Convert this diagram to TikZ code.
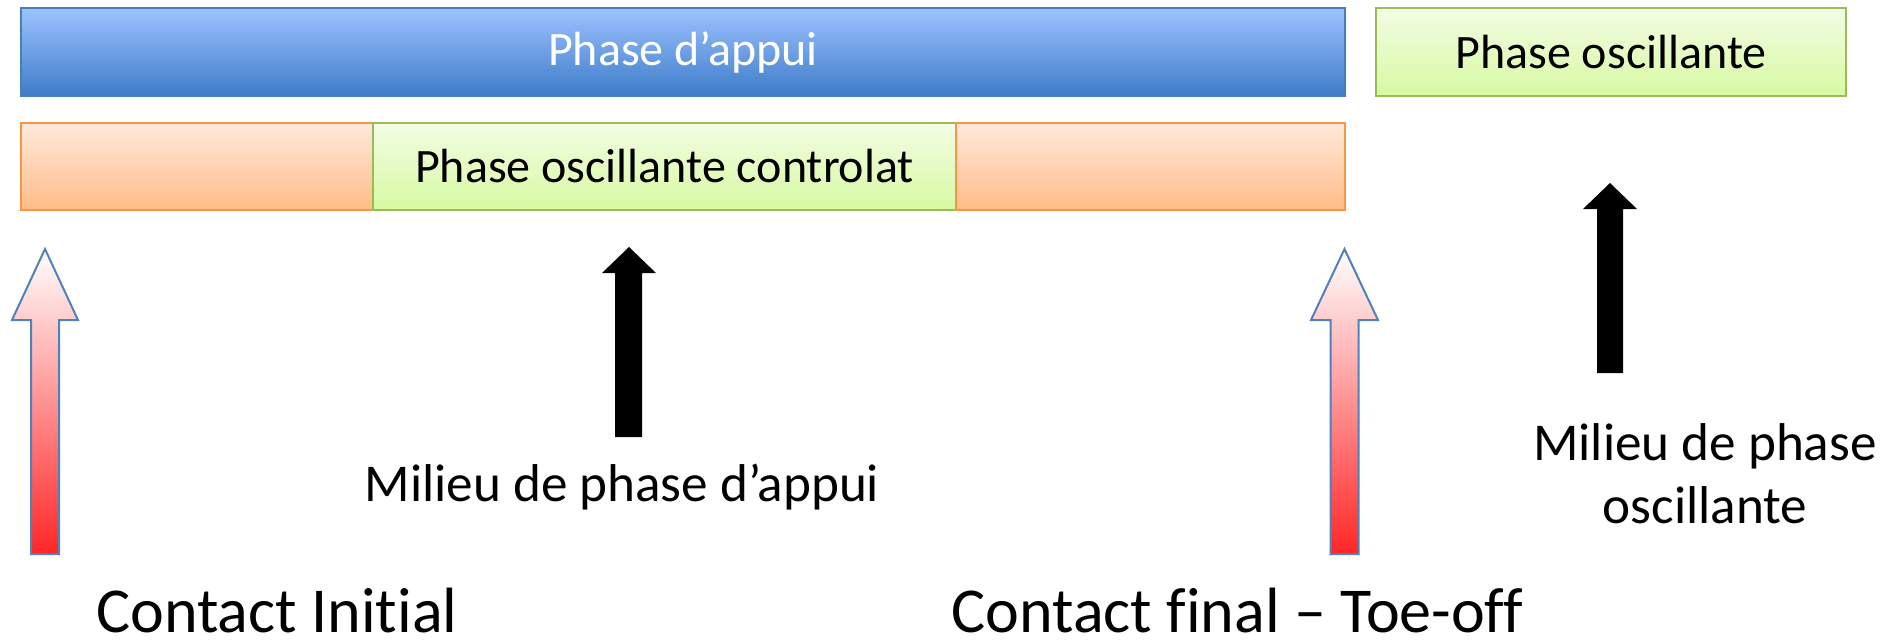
\documentclass[tikz,border=0pt]{standalone}
\usepackage{fontspec}
\setmainfont{Carlito}[Ligatures=NoCommon]
\definecolor{bluetop}{HTML}{9DC3FF}
\definecolor{bluebot}{HTML}{3D7CC9}
\definecolor{blueline}{HTML}{4A7EBB}
\definecolor{orgtop}{HTML}{FFE9DA}
\definecolor{orgbot}{HTML}{FFBC88}
\definecolor{orgline}{HTML}{F79646}
\definecolor{grntop}{HTML}{F2FDE4}
\definecolor{grnbot}{HTML}{D8F9A2}
\definecolor{grnline}{HTML}{9BBB59}
\definecolor{arrline}{HTML}{4F81BD}
\definecolor{arrred}{HTML}{FF2626}
\tikzset{
  bar/.style={rectangle, inner sep=0pt, line width=1.2pt, font=\fontsize{24}{28}\selectfont},
  bluebar/.style={bar, draw=blueline, top color=bluetop, bottom color=bluebot, text=white},
  orgbar/.style={bar, draw=orgline, top color=orgtop, bottom color=orgbot},
  grnbar/.style={bar, draw=grnline, top color=grntop, bottom color=grnbot},
  hollowarrow/.style={draw=arrline, line width=1pt, top color=white, bottom color=arrred},
  solidarrow/.style={fill=black},
  lbl/.style={inner sep=0pt, align=center, font=\fontsize{26.6}{31.5}\selectfont},
  biglbl/.style={inner sep=0pt, font=\fontsize{32}{36}\selectfont},
}
\begin{document}
\begin{tikzpicture}[x=0.5pt,y=-0.5pt]
\useasboundingbox (0,0) rectangle (1897,639);
% top row
\node[bluebar, minimum width=662pt, minimum height=44pt] (appui) at (683,52) {Phase d’appui};
\node[grnbar, minimum width=235pt, minimum height=44pt] (osc) at (1611,52) {Phase oscillante};
% second row
\node[orgbar, minimum width=176pt, minimum height=43.5pt] (o1) at (197,166.5) {};
\node[grnbar, minimum width=291.5pt, minimum height=43.5pt] (ctrl) at (664.5,166.5) {Phase oscillante controlat};
\node[orgbar, minimum width=194.5pt, minimum height=43.5pt] (o2) at (1150.5,166.5) {};
% hollow gradient arrows
\path[hollowarrow] (45,249) -- (78,320) -- (59,320) -- (59,554) -- (31,554) -- (31,320) -- (12,320) -- cycle;
\path[hollowarrow] (1344.5,249) -- (1378,320) -- (1358.5,320) -- (1358.5,554) -- (1330.5,554) -- (1330.5,320) -- (1311,320) -- cycle;
% solid black arrows
\path[solidarrow] (629,247) -- (656,273) -- (642,273) -- (642,437) -- (615,437) -- (615,273) -- (602,273) -- cycle;
\path[solidarrow] (1610,183) -- (1637,209) -- (1623,209) -- (1623,373) -- (1597,373) -- (1597,209) -- (1583,209) -- cycle;
% labels
\node[lbl, anchor=base] (mid) at (622,501) {Milieu de phase d’appui};
\node[lbl, anchor=base] (midosc) at (1705,523) {Milieu de phase\\oscillante};
\node[biglbl, anchor=base] (ci) at (277,632) {Contact Initial};
\node[biglbl, anchor=base] (cf) at (1237.5,632) {Contact final – Toe-off};
\end{tikzpicture}
\end{document}
